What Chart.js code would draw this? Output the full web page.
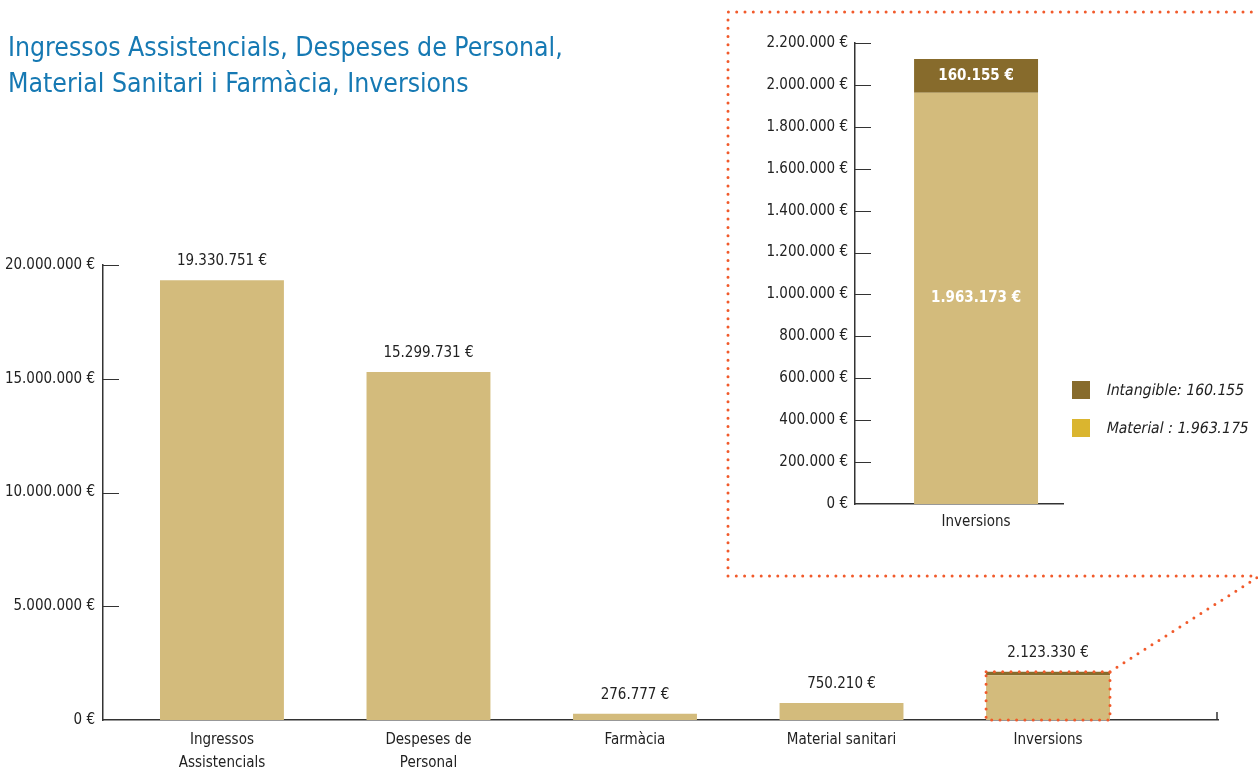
<!DOCTYPE html>
<html>
<head>
<meta charset="utf-8">
<script src="https://cdn.jsdelivr.net/npm/chart.js@4.4.1/dist/chart.umd.min.js"></script>
<style>
  body{margin:0;background:#fff;width:1258px;height:771px;overflow:hidden;position:relative;
       font-family:"Liberation Sans Narrow","DejaVu Sans Condensed",sans-serif;}
  #title{position:absolute;left:8px;top:29px;color:#1679b3;font-size:26.4px;line-height:36px;z-index:2}
  #main{position:absolute;left:0;top:0}
  #inset{position:absolute;left:728px;top:12px}
  .leg{position:absolute;left:1072px;height:18px;z-index:2}
  .leg span.sw{position:absolute;left:0;top:0;width:18px;height:18px}
  .leg span.tx{position:absolute;left:33px;top:0px;white-space:nowrap;font-size:15.6px;color:#222;
               display:inline-block;transform:skewX(-11deg);transform-origin:left bottom}
</style>
</head>
<body>
<div id="title">Ingressos Assistencials, Despeses de Personal,<br>Material Sanitari i Farmàcia, Inversions</div>
<canvas id="main" width="1258" height="771"></canvas>
<canvas id="inset" width="530" height="564"></canvas>
<div class="leg" style="top:381px"><span class="sw" style="background:#876b2c"></span><span class="tx">Intangible: 160.155</span></div>
<div class="leg" style="top:419px"><span class="sw" style="background:#dab52f"></span><span class="tx">Material : 1.963.175</span></div>

<script>
/* -------- DATA -------- */
const categories = [["Ingressos","Assistencials"],["Despeses de","Personal"],"Farmàcia","Material sanitari","Inversions"];
const baseValues = [19330751, 15299731, 276777, 750210, 1963175];
const topValues  = [0, 0, 0, 0, 160155];
const totalLabels = ["19.330.751 €","15.299.731 €","276.777 €","750.210 €","2.123.330 €"];
const mainTicks = [0, 5000000, 10000000, 15000000, 20000000];

const insetCategory = ["Inversions"];
const insetMaterial = [1963175];
const insetIntangible = [160155];
const insetMaterialLabel = ["1.963.173 €"];
const insetIntangibleLabel = ["160.155 €"];
const insetTicks = [0,200000,400000,600000,800000,1000000,1200000,1400000,1600000,1800000,2000000,2200000];

const TAN = "#d3bb7c", DARK = "#876b2c", DOT = "#f15a2b";
const FONT = "'Liberation Sans Narrow','DejaVu Sans Condensed',sans-serif";

function euro(v){
  return String(v).replace(/\B(?=(\d{3})+(?!\d))/g, ".") + " €";
}

/* ticks pointing into the plot, like the original */
const innerTicks = {
  id:"innerTicks",
  afterDraw(chart){
    const {ctx, chartArea, scales} = chart;
    ctx.save();
    ctx.strokeStyle = "#333";
    ctx.lineWidth = 1;
    scales.y.ticks.forEach(t => {
      if(t.value === 0) return;
      const y = Math.round(scales.y.getPixelForValue(t.value)) + 0.5;
      ctx.beginPath();
      ctx.moveTo(chartArea.left, y);
      ctx.lineTo(chartArea.left + 16, y);
      ctx.stroke();
    });
    ctx.restore();
  }
};

function dotted(ctx){
  ctx.strokeStyle = DOT;
  ctx.lineWidth = 3;
  ctx.lineCap = "round";
  ctx.setLineDash([0, 8.3]);
}

/* -------- MAIN CHART -------- */
const mainExtras = {
  id:"mainExtras",
  afterDraw(chart){
    const {ctx, chartArea, scales} = chart;
    const top = chart.getDatasetMeta(1);
    ctx.save();
    // value labels above bars
    ctx.fillStyle = "#222";
    ctx.font = "15px " + FONT;
    ctx.textAlign = "center";
    ctx.textBaseline = "middle";
    top.data.forEach((el, i) => {
      ctx.fillText(totalLabels[i], el.x, el.y - 19);
    });
    // little tick at the right end of the x axis
    ctx.strokeStyle = "#333";
    ctx.lineWidth = 1.5;
    ctx.beginPath();
    ctx.moveTo(chartArea.right - 1, chartArea.bottom);
    ctx.lineTo(chartArea.right - 1, chartArea.bottom - 8);
    ctx.stroke();

    // dotted zoom frame
    const el = top.data[4];
    const l = el.x - el.width/2, r = el.x + el.width/2, t = el.y;
    const b = scales.y.getPixelForValue(0);
    dotted(ctx);
    ctx.beginPath();
    ctx.rect(l, t, r - l, b - t);
    ctx.stroke();
    ctx.beginPath();
    ctx.moveTo(728, 576); ctx.lineTo(728, 12); ctx.lineTo(1264, 12);
    ctx.moveTo(728, 576); ctx.lineTo(1258, 576);
    ctx.moveTo(r, t); ctx.lineTo(1258, 577);
    ctx.stroke();
    ctx.restore();
  }
};

new Chart(document.getElementById("main"), {
  type:"bar",
  data:{
    datasets:[
      {data: baseValues.map((v,i)=>({x:i, y:v})), backgroundColor: TAN},
      {data: topValues.map((v,i)=>({x:i, y:v})), backgroundColor: DARK}
    ]
  },
  options:{
    responsive:false,
    animation:false,
    layout:{padding:{top:265, right:40, left:0, bottom:0}},
    datasets:{bar:{barPercentage:0.6, categoryPercentage:1}},
    plugins:{legend:{display:false}, tooltip:{enabled:false}},
    scales:{
      x:{
        type:"linear", offset:false, stacked:true, min:-0.576, max:4.823,
        afterBuildTicks: s => { s.ticks = categories.map((c,i)=>({value:i})); },
        afterFit: s => { s.height = 51; },
        grid:{display:false, drawTicks:false},
        border:{color:"#333", width:1.5},
        ticks:{padding:9, color:"#222", autoSkip:false, maxRotation:0,
               font:{family:FONT, size:15, lineHeight:1.5},
               callback: v => categories[v]}
      },
      y:{
        stacked:true, min:0, max:20000000,
        afterBuildTicks: s => { s.ticks = mainTicks.map(v=>({value:v})); },
        afterFit: s => { s.width = 103; },
        grid:{display:false, drawTicks:false},
        border:{color:"#333", width:1.5},
        ticks:{padding:8, color:"#222", font:{family:FONT, size:15}, callback: v => euro(v)}
      }
    }
  },
  plugins:[innerTicks, mainExtras]
});

/* -------- INSET CHART -------- */
const insetExtras = {
  id:"insetExtras",
  afterDraw(chart){
    const {ctx} = chart;
    const mat = chart.getDatasetMeta(0).data[0];
    const intg = chart.getDatasetMeta(1).data[0];
    ctx.save();
    ctx.fillStyle = "#fff";
    ctx.font = "bold 15px " + FONT;
    ctx.textAlign = "center";
    ctx.textBaseline = "middle";
    ctx.fillText(insetMaterialLabel[0], mat.x, (mat.y + mat.base)/2);
    ctx.fillText(insetIntangibleLabel[0], intg.x, (intg.y + intg.base)/2);
    ctx.restore();
  }
};

new Chart(document.getElementById("inset"), {
  type:"bar",
  data:{
    datasets:[
      {data: insetMaterial.map((v,i)=>({x:i, y:v})), backgroundColor: TAN},
      {data: insetIntangible.map((v,i)=>({x:i, y:v})), backgroundColor: DARK}
    ]
  },
  options:{
    responsive:false,
    animation:false,
    layout:{padding:{top:31, right:195, left:0, bottom:0}},
    datasets:{bar:{barPercentage:0.596, categoryPercentage:1}},
    plugins:{legend:{display:false}, tooltip:{enabled:false}},
    scales:{
      x:{
        type:"linear", offset:false, stacked:true, min:-0.582, max:0.418,
        afterBuildTicks: s => { s.ticks = insetCategory.map((c,i)=>({value:i})); },
        afterFit: s => { s.height = 72; },
        grid:{display:false, drawTicks:false},
        border:{color:"#333", width:1.5},
        ticks:{padding:9, color:"#222", maxRotation:0,
               font:{family:FONT, size:15}, callback: v => insetCategory[v]}
      },
      y:{
        stacked:true, min:0, max:2200000,
        afterBuildTicks: s => { s.ticks = insetTicks.map(v=>({value:v})); },
        afterFit: s => { s.width = 127; },
        grid:{display:false, drawTicks:false},
        border:{color:"#333", width:1.5},
        ticks:{padding:7, color:"#222", font:{family:FONT, size:15}, callback: v => euro(v)}
      }
    }
  },
  plugins:[innerTicks, insetExtras]
});
</script>
</body>
</html>
